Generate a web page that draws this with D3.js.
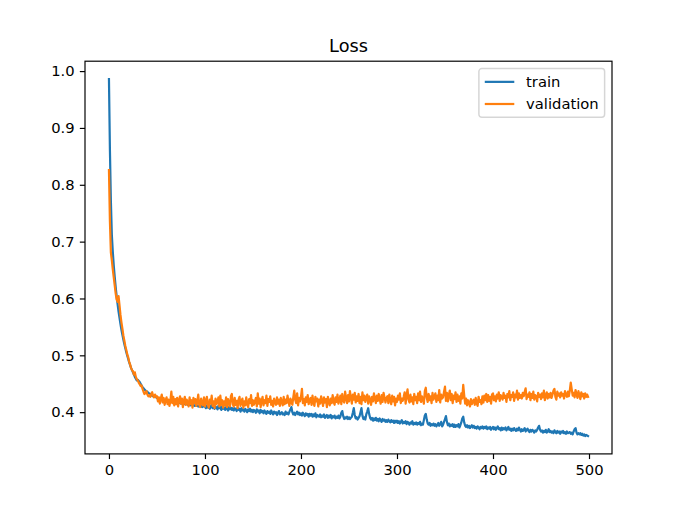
<!DOCTYPE html>
<html>
<head>
<meta charset="utf-8">
<script src="https://cdn.jsdelivr.net/npm/d3@7"></script>
<style>
  body { margin: 0; background: #fff; }
  text { font-family: "DejaVu Sans", sans-serif; }
</style>
</head>
<body>
<script>
// loss per epoch, in thousandths (0.986 -> 986)
var train = [
  986,862,772,712,682,658,638,620,604,590,
  577,566,555,545,536,528,520,513,506,500,
  494,488,483,478,474,470,466,462,459,456,
  457,455,453,450,447,444,442,440,438,437,
  436,434,433,432,430,429,428,427,427,426,
  425,425,424,423,423,422,422,421,421,420,
  421,420,419,419,420,418,418,419,417,418,
  417,418,416,417,416,415,416,415,414,415,
  414,415,413,414,413,412,414,412,413,411,
  412,411,412,410,411,410,411,409,410,410,
  410,407,412,408,411,406,410,413,407,409,
  406,410,408,405,411,407,409,404,410,406,
  408,404,409,406,403,409,405,408,404,407,
  403,407,405,402,408,404,406,401,407,403,
  405,401,406,403,400,405,402,406,401,404,
  400,404,402,399,405,401,403,398,404,400,
  402,398,403,400,397,402,399,401,397,403,
  399,396,401,398,400,395,399,402,396,398,
  400,396,398,395,401,397,399,396,401,405,
  409,400,396,399,395,398,401,396,399,395,
  398,394,399,396,393,398,395,397,392,397,
  394,397,392,396,393,398,391,395,394,392,
  396,391,394,392,396,390,393,395,390,394,
  391,395,389,393,391,394,389,392,390,394,
  389,392,399,402,393,388,391,389,392,388,
  391,388,390,392,399,407,395,389,391,387,
  390,393,400,407,394,388,391,387,396,401,
  407,397,390,387,390,385,389,386,390,385,
  388,384,389,386,383,388,385,387,383,386,
  383,387,384,382,386,383,385,381,385,382,
  385,381,384,380,383,386,380,383,381,384,
  379,383,381,378,382,380,384,378,381,379,
  382,378,381,379,383,377,380,378,386,394,
  397,387,380,378,381,376,379,377,380,376,
  379,375,378,381,376,379,383,375,378,383,
  388,393,383,377,380,375,378,376,379,374,
  378,374,377,375,379,373,377,382,389,392,
  382,376,374,377,373,376,372,375,377,373,
  376,372,374,371,375,373,370,374,372,375,
  371,374,372,375,370,373,371,374,369,372,
  374,370,373,369,372,375,370,372,368,373,
  369,372,370,373,368,371,374,369,371,367,
  371,368,372,369,367,371,368,373,369,366,
  370,367,369,372,366,369,371,367,365,369,
  366,369,367,364,368,366,369,373,376,369,
  366,368,364,367,365,369,364,366,370,365,
  367,364,366,363,368,365,363,367,364,366,
  362,366,364,367,363,365,362,366,363,364,
  365,362,364,361,366,370,372,364,361,363,
  361,363,360,362,359,361,358,360,359,358
];

var validation = [
  826,736,681,667,651,637,623,609,598,594,
  604,588,571,558,547,535,526,517,510,502,
  497,489,484,478,474,472,466,470,462,458,
  456,452,449,446,447,441,436,432,434,437,
  431,428,430,427,432,435,429,426,431,427,
  428,419,426,415,424,431,417,425,413,421,
  426,414,422,411,420,436,416,427,412,423,
  414,425,410,421,428,415,424,409,420,427,
  413,422,417,410,426,414,421,408,425,416,
  423,411,419,431,413,409,424,416,412,426,
  410,420,427,413,408,422,415,429,411,419,
  407,424,414,418,426,410,429,413,421,408,
  419,412,426,409,423,415,410,428,432,414,
  410,425,413,420,407,422,427,411,418,424,
  408,419,412,426,414,409,423,416,430,411,
  421,413,419,425,410,433,415,424,409,420,
  427,412,421,416,429,411,423,418,428,413,
  420,410,424,417,413,426,415,422,411,425,
  418,412,427,414,422,416,429,419,411,424,
  419,413,426,438,422,416,433,412,425,419,
  427,441,416,423,412,426,418,430,414,421,
  425,413,429,417,411,427,419,424,410,422,
  415,428,420,411,426,417,423,409,427,418,
  412,424,416,430,419,413,426,418,431,415,
  421,429,414,432,420,417,436,425,416,430,
  419,437,426,415,431,422,434,417,428,420,
  432,416,427,414,435,421,429,418,426,431,
  415,428,422,413,427,419,433,424,416,429,
  420,432,423,415,430,418,434,426,417,425,
  428,416,431,421,414,429,419,427,412,424,
  418,429,422,433,416,424,420,427,435,415,
  430,440,422,417,431,419,426,414,432,421,
  427,416,433,421,436,418,428,423,415,437,
  443,425,418,432,421,428,416,434,422,427,
  433,418,429,421,439,417,431,424,426,436,
  445,420,434,419,430,438,421,432,416,429,
  423,435,418,431,420,428,415,433,424,448,
  430,415,424,412,421,417,410,423,414,419,
  422,413,425,416,411,427,418,421,414,428,
  417,429,421,432,418,430,420,427,415,431,
  433,421,428,419,431,424,435,420,430,426,
  422,434,425,429,418,432,426,437,421,430,
  427,435,420,431,426,438,422,433,425,430,
  424,434,428,436,442,423,431,427,435,421,
  432,425,436,422,430,428,419,434,427,431,
  423,433,426,438,421,429,435,424,432,426,
  434,425,431,438,441,427,422,436,429,433,
  426,435,429,432,424,437,430,427,436,428,
  438,452,440,429,434,426,439,431,425,437,
  430,423,435,428,432,424,433,427,431,427
];

var seriesNames = ["train", "validation"];
var seriesColors = ["#1f77b4", "#ff7f0e"];
var xTicks = [0, 100, 200, 300, 400, 500];
var yTicks = [0.4, 0.5, 0.6, 0.7, 0.8, 0.9, 1.0];
var chartTitle = "Loss";

//Figure size and axes box (matplotlib default fractions)
var W = 680, H = 510;
var pt = (680 / 6.4) / 72;
var margin = {top: H * 0.12, right: W * 0.1, bottom: H * 0.11, left: W * 0.125},
    width = W - margin.left - margin.right,
    height = H - margin.top - margin.bottom;

var series = [train, validation].map(function(arr, i) {
	return {name: seriesNames[i], color: seriesColors[i],
		values: arr.map(function(v, e) { return {epoch: e, loss: v / 1000}; })};
});

var svg = d3.select("body")
	.append("svg")
		.attr("width", W)
		.attr("height", H);

var g = svg.append("g")
	.attr("transform", "translate(" + margin.left + "," + margin.top + ")");

//Scales with 5% padding like matplotlib autoscale
var allPts = d3.merge(series.map(function(s) { return s.values; }));
var xExt = d3.extent(allPts, function(d) { return d.epoch; });
var yExt = d3.extent(allPts, function(d) { return d.loss; });
var xPad = (xExt[1] - xExt[0]) * 0.05, yPad = (yExt[1] - yExt[0]) * 0.05;

var xScale = d3.scaleLinear()
	.domain([xExt[0] - xPad, xExt[1] + xPad])
	.range([0, width]);

var yScale = d3.scaleLinear()
	.domain([yExt[0] - yPad, yExt[1] + yPad])
	.range([height, 0]);

g.append("clipPath").attr("id", "clip")
	.append("rect").attr("width", width).attr("height", height);

var line = d3.line()
	.x(function(d) { return xScale(d.epoch); })
	.y(function(d) { return yScale(d.loss); });

g.selectAll(".series")
	.data(series)
	.enter()
	.append("path")
		.attr("class", "series")
		.attr("clip-path", "url(#clip)")
		.attr("fill", "none")
		.attr("stroke", function(d) { return d.color; })
		.attr("stroke-width", 1.5 * pt)
		.attr("stroke-linejoin", "round")
		.attr("stroke-linecap", "square")
		.attr("d", function(d) { return line(d.values); });

//Axes
var fontSize = 10 * pt;
var x_axis = d3.axisBottom(xScale)
	.tickValues(xTicks)
	.tickSize(3.5 * pt)
	.tickPadding(3.5 * pt)
	.tickFormat(d3.format("d"));

var y_axis = d3.axisLeft(yScale)
	.tickValues(yTicks)
	.tickSize(3.5 * pt)
	.tickPadding(3.5 * pt)
	.tickFormat(d3.format(".1f"));

var gx = g.append("g")
	.attr("transform", "translate(0," + height + ")")
	.call(x_axis);

var gy = g.append("g")
	.call(y_axis);

[gx, gy].forEach(function(a) {
	a.select(".domain").remove();
	a.selectAll("line").attr("stroke", "#000").attr("stroke-width", 0.8 * pt);
	a.selectAll("text")
		.attr("fill", "#000")
		.style("font-family", "DejaVu Sans")
		.style("font-size", fontSize + "px");
});

//Spines
g.append("rect")
	.attr("width", width)
	.attr("height", height)
	.attr("fill", "none")
	.attr("stroke", "#000")
	.attr("stroke-width", 0.8 * pt);

//Title
g.append("text")
	.attr("x", width / 2)
	.attr("y", -6 * pt)
	.attr("text-anchor", "middle")
	.style("font-size", (12 * pt) + "px")
	.attr("fill", "#000")
	.text(chartTitle);

//Legend in the upper right
var em = fontSize;
var legend = g.append("g");
var items = legend.selectAll(".item")
	.data(series)
	.enter()
	.append("g")
		.attr("class", "item");

items.append("text")
	.attr("x", 0.4 * em + 2 * em + 0.8 * em)
	.attr("y", function(d, i) { return 0.4 * em + i * 1.5 * em + 0.5 * em; })
	.attr("dy", "0.36em")
	.style("font-size", em + "px")
	.attr("fill", "#000")
	.text(function(d) { return d.name; });

items.append("line")
	.attr("x1", 0.4 * em)
	.attr("x2", 0.4 * em + 2 * em)
	.attr("y1", function(d, i) { return 0.4 * em + i * 1.5 * em + 0.5 * em; })
	.attr("y2", function(d, i) { return 0.4 * em + i * 1.5 * em + 0.5 * em; })
	.attr("stroke", function(d) { return d.color; })
	.attr("stroke-width", 1.5 * pt);

var textW = d3.max(items.selectAll("text").nodes(), function(n) { return n.getComputedTextLength(); });
var boxW = 0.4 * em + 2 * em + 0.8 * em + textW + 0.4 * em;
var boxH = 0.4 * em * 2 + series.length * em + (series.length - 1) * 0.5 * em;

legend.insert("rect", ":first-child")
	.attr("width", boxW)
	.attr("height", boxH)
	.attr("rx", 0.2 * em)
	.attr("fill", "#fff")
	.attr("fill-opacity", 0.8)
	.attr("stroke", "#cccccc")
	.attr("stroke-opacity", 0.8)
	.attr("stroke-width", 1 * pt);

legend.attr("transform", "translate(" + (width - 0.5 * em - boxW) + "," + (0.5 * em) + ")");
</script>
</body>
</html>
